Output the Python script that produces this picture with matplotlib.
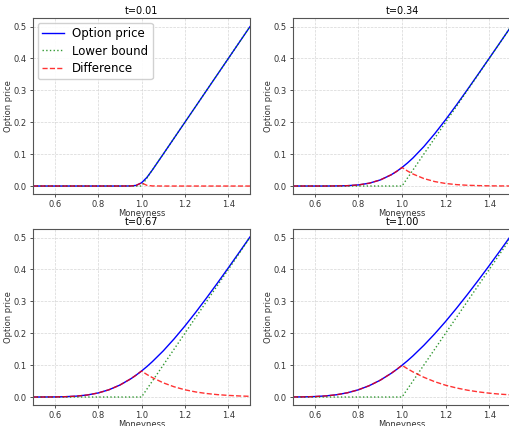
import matplotlib
matplotlib.use("Agg")
import matplotlib.pyplot as plt
import numpy as np

# moneyness grid (denser around the strike)
moneyness = [0.50, 0.55, 0.60, 0.65, 0.70, 0.75, 0.80, 0.85, 0.90, 0.95, 0.975,
             1.00, 1.025, 1.05, 1.10, 1.15, 1.20, 1.25, 1.30, 1.35, 1.40, 1.45, 1.50]

lower_bound = [0, 0, 0, 0, 0, 0, 0, 0, 0, 0, 0,
               0, 0.025, 0.05, 0.10, 0.15, 0.20, 0.25, 0.30, 0.35, 0.40, 0.45, 0.50]

times = ["t=0.01", "t=0.34", "t=0.67", "t=1.00"]

price_t001 = [0, 0, 0, 0, 0, 0, 0, 0, 0, 0.0002, 0.0020,
              0.0100, 0.0271, 0.0503, 0.100, 0.150, 0.200, 0.250, 0.300, 0.350, 0.400, 0.450, 0.500]
price_t034 = [0, 0, 0, 0, 0.0003, 0.0011, 0.0035, 0.0089, 0.0190, 0.0351, 0.0457,
              0.0582, 0.0722, 0.0878, 0.1235, 0.1640, 0.2080, 0.2544, 0.3024, 0.3513, 0.4006, 0.4503, 0.5002]
price_t067 = [0, 0.0001, 0.0003, 0.0011, 0.0028, 0.0064, 0.0127, 0.0228, 0.0374, 0.0569, 0.0686,
              0.0815, 0.0956, 0.1110, 0.1446, 0.1822, 0.2227, 0.2659, 0.3110, 0.3575, 0.4051, 0.4534, 0.5022]
price_t100 = [0.0002, 0.0005, 0.0015, 0.0035, 0.0072, 0.0134, 0.0227, 0.0357, 0.0527, 0.0741, 0.0863,
              0.0995, 0.1137, 0.1289, 0.1620, 0.1981, 0.2370, 0.2784, 0.3215, 0.3662, 0.4121, 0.4590, 0.5068]

prices = [price_t001, price_t034, price_t067, price_t100]

W, H = 509, 426
fig = plt.figure(figsize=(W / 100, H / 100), dpi=100)

# axes rectangles in pixels: (left, top, width, height)
rects = [(33, 18, 217, 176), (293, 18, 218, 176),
         (33, 229, 217, 176), (293, 229, 218, 176)]

for i, (title, price) in enumerate(zip(times, prices)):
    l, t, w, h = rects[i]
    ax = fig.add_axes([l / W, 1 - (t + h) / H, w / W, h / H])
    price = np.array(price)
    bound = np.array(lower_bound)
    ax.plot(moneyness, price, color='b', lw=1.0, label='Option price')
    ax.plot(moneyness, bound, color='g', ls=':', lw=1.0, alpha=0.8, label='Lower bound')
    ax.plot(moneyness, price - bound, color='r', ls='--', lw=1.0, alpha=0.8, label='Difference')
    ax.set_xlim(0.5, 1.5)
    ax.set_ylim(-0.025, 0.527)
    ax.set_xticks([0.6, 0.8, 1.0, 1.2, 1.4])
    ax.set_yticks([0.0, 0.1, 0.2, 0.3, 0.4, 0.5])
    ax.grid(True, ls='--', lw=0.5, color='#cccccc', alpha=0.8)
    ax.tick_params(labelsize=6, length=2.5, width=0.6, pad=2, colors='#333333')
    for s in ax.spines.values():
        s.set_color('#555555')
        s.set_linewidth(0.8)
    ax.set_title(title, fontsize=7, pad=3)
    ax.set_xlabel('Moneyness', fontsize=6, labelpad=0, color='#333333')
    ax.set_ylabel('Option price', fontsize=6, labelpad=0.5, color='#333333')
    if i == 0:
        ax.legend(loc='upper left', fontsize=8.5, handlelength=1.8,
                  borderaxespad=0.4, labelspacing=0.35, handletextpad=0.7,
                  framealpha=0.9)

fig.savefig('out.png', dpi=100)
